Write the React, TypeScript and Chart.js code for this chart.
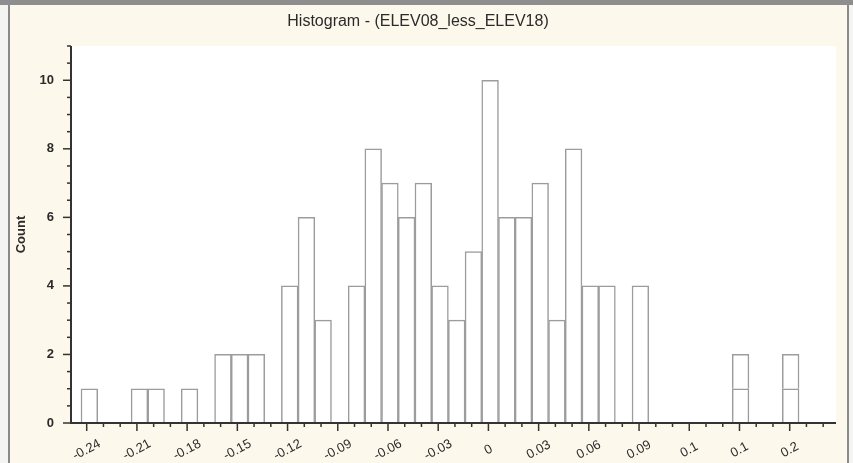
import React, { useEffect, useRef } from "react";
import { Chart, registerables } from "chart.js";

Chart.register(...registerables);

// ---- data ----
const chartTitle = "Histogram - (ELEV08_less_ELEV18)";
const yAxisTitle = "Count";
const binStart = -0.2434; // left edge of first bin
const binWidth = 0.009976; // width of every bin
// counts per bin (lower segment)
const counts = [
  1, 0, 0, 1, 1, 0, 1, 0, 2, 2, 2, 0, 4, 6, 3, 0, 4, 8, 7, 6, 7, 4, 3, 5, 10, 6,
  6, 7, 3, 8, 4, 4, 0, 4, 0, 0, 0, 0, 0, 1, 0, 0, 1,
];
// second stacked segment (drawn as a separate box on top)
const stackedExtra = [
  0, 0, 0, 0, 0, 0, 0, 0, 0, 0, 0, 0, 0, 0, 0, 0, 0, 0, 0, 0, 0, 0, 0, 0, 0, 0,
  0, 0, 0, 0, 0, 0, 0, 0, 0, 0, 0, 0, 0, 1, 0, 0, 1,
];
const xMin = -0.24938;
const xMax = 0.20766;
const yMin = 0;
const yMax = 11;
// major x tick labels, one every 3rd tick starting at -0.24
const xTickLabels = [
  "-0.24", "-0.21", "-0.18", "-0.15", "-0.12", "-0.09", "-0.06", "-0.03",
  "0", "0.03", "0.06", "0.09", "0.1", "0.1", "0.2",
];
const xTickFirst = -24; // hundredths
const xTickLast = 20;
const yTickStep = 0.5;

const FONT = '"Liberation Sans", Arial, Helvetica, sans-serif';
const TEXT = "#2b2b2b";

const xTickValues: number[] = [];
for (let k = xTickFirst; k <= xTickLast; k++) xTickValues.push(k / 100);
const yTickValues: number[] = [];
for (let v = yMin; v <= yMax + 1e-9; v += yTickStep) yTickValues.push(Math.round(v * 10) / 10);

const decorPlugin = {
  id: "decor",
  beforeDraw(chart: any) {
    const { ctx, chartArea: a } = chart;
    ctx.save();
    ctx.fillStyle = "#ffffff";
    ctx.fillRect(a.left, a.top, a.right - a.left, a.bottom - a.top);
    ctx.restore();
  },
  afterDatasetsDraw(chart: any) {
    const { ctx, chartArea: a } = chart;
    const xs = chart.scales.x;
    const ys = chart.scales.y;
    const line = (x1: number, y1: number, x2: number, y2: number) => {
      ctx.beginPath();
      ctx.moveTo(x1, y1);
      ctx.lineTo(x2, y2);
      ctx.stroke();
    };
    ctx.save();
    ctx.strokeStyle = "#333333";
    ctx.lineWidth = 1.5;
    ys.ticks.forEach((t: any) => {
      const py = ys.getPixelForValue(t.value);
      const len = t.value % 2 === 0 ? 8 : 4;
      line(a.left - len, py, a.left, py);
    });
    xs.ticks.forEach((t: any, i: number) => {
      const px = xs.getPixelForValue(t.value);
      const len = i % 3 === 0 ? 8 : 4;
      line(px, a.bottom, px, a.bottom + len);
    });
    ctx.lineWidth = 2;
    line(a.left, a.top, a.left, a.bottom + 1);
    line(a.left - 1, a.bottom, a.right, a.bottom);

    ctx.fillStyle = TEXT;
    ctx.font = `13px ${FONT}`;
    ctx.textAlign = "center";
    ctx.textBaseline = "middle";
    xs.ticks.forEach((t: any, i: number) => {
      if (i % 3 !== 0) return;
      const label = xTickLabels[i / 3];
      if (label === undefined) return;
      const px = xs.getPixelForValue(t.value);
      ctx.save();
      ctx.translate(px, a.bottom + 27);
      ctx.rotate((-28 * Math.PI) / 180);
      ctx.fillText(label, 0, 0);
      ctx.restore();
    });
    ctx.restore();
  },
};

export default function App() {
  const canvasRef = useRef<HTMLCanvasElement | null>(null);

  useEffect(() => {
    const canvas = canvasRef.current;
    if (!canvas) return;
    const centers = counts.map((_, i) => binStart + (i + 0.5) * binWidth);
    const barStyle = {
      backgroundColor: "#ffffff",
      borderColor: "#9c9c9c",
      borderWidth: 1.5,
      categoryPercentage: 1,
      barPercentage: 1,
    };
    const chart = new Chart(canvas, {
      type: "bar",
      data: {
        datasets: [
          {
            ...barStyle,
            data: counts.map((c, i) => ({ x: centers[i], y: c })),
          },
          {
            ...barStyle,
            data: stackedExtra.map((c, i) => ({ x: centers[i], y: c ? c : null })),
          },
        ] as any,
      },
      options: {
        animation: false,
        responsive: false,
        devicePixelRatio: 1,
        layout: { padding: { left: 0, right: 17, top: 0, bottom: 0 } },
        plugins: {
          legend: { display: false },
          tooltip: { enabled: false },
          title: {
            display: true,
            text: chartTitle,
            color: TEXT,
            font: { family: FONT, size: 16, weight: "normal", lineHeight: 1 },
            padding: { top: 14, bottom: 16 },
          },
        },
        scales: {
          x: {
            type: "linear",
            stacked: true,
            offset: false,
            min: xMin,
            max: xMax,
            afterBuildTicks: (scale: any) => {
              scale.ticks = xTickValues.map((v) => ({ value: v }));
            },
            afterFit: (scale: any) => {
              scale.height = 40;
            },
            grid: { display: false, drawTicks: false, offset: false },
            border: { display: false },
            ticks: { display: false, autoSkip: false },
          },
          y: {
            type: "linear",
            stacked: true,
            min: yMin,
            max: yMax,
            afterBuildTicks: (scale: any) => {
              scale.ticks = yTickValues.map((v) => ({ value: v }));
            },
            afterFit: (scale: any) => {
              scale.width = 71;
            },
            grid: { display: false, drawTicks: false },
            border: { display: false },
            ticks: {
              autoSkip: false,
              padding: 17,
              color: TEXT,
              font: { family: FONT, size: 13, weight: "bold" },
              callback: (v: any) => (Number(v) % 2 === 0 ? String(v) : ""),
            },
            title: {
              display: true,
              text: yAxisTitle,
              color: TEXT,
              font: { family: FONT, size: 13, weight: "bold" },
              padding: { top: 14, bottom: 0 },
            },
          },
        },
      } as any,
      plugins: [decorPlugin],
    });
    return () => chart.destroy();
  }, []);

  return (
    <div
      style={{
        position: "absolute",
        left: 0,
        top: 0,
        width: 853,
        height: 463,
        background: "#fdf8ec",
        overflow: "hidden",
      }}
    >
      <div style={{ position: "absolute", left: 0, top: 0, width: 853, height: 5, background: "#8e8e8e" }} />
      <div style={{ position: "absolute", left: 0, top: 5, width: 8, height: 458, background: "#f4f4f2" }} />
      <div style={{ position: "absolute", left: 8, top: 5, width: 2, height: 458, background: "#8a8a8a" }} />
      <div style={{ position: "absolute", left: 847, top: 5, width: 2, height: 458, background: "#8a8a8a" }} />
      <div style={{ position: "absolute", left: 849, top: 5, width: 4, height: 458, background: "#f4f4f2" }} />
      <canvas
        ref={canvasRef}
        width={853}
        height={463}
        style={{ position: "absolute", left: 0, top: 0, display: "block" }}
      />
    </div>
  );
}
